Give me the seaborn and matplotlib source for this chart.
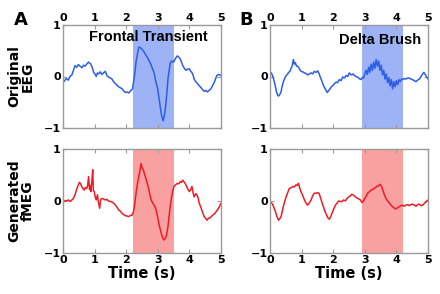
import numpy as np
import pandas as pd
import matplotlib
matplotlib.use("Agg")
import matplotlib.pyplot as plt
import seaborn as sns

# --- data (time in s, normalised amplitude) ---
t_a_eeg = [0.0, 0.03, 0.1, 0.17, 0.22, 0.28, 0.33, 0.38, 0.43, 0.49, 0.54, 0.6, 0.65, 0.7, 0.75, 0.81,
           0.88, 0.93, 0.97, 1.02, 1.05, 1.09, 1.13, 1.18, 1.23, 1.28, 1.34, 1.39, 1.44, 1.5, 1.55, 1.6,
           1.66, 1.71, 1.76, 1.82, 1.87, 1.92, 1.97, 2.03, 2.08, 2.15, 2.2, 2.24, 2.28, 2.31, 2.36, 2.4,
           2.45, 2.5, 2.55, 2.6, 2.66, 2.72, 2.78, 2.83, 2.88, 2.93, 2.99, 3.04, 3.08, 3.12, 3.17, 3.21,
           3.25, 3.29, 3.32, 3.36, 3.39, 3.43, 3.46, 3.5, 3.55, 3.58, 3.62, 3.66, 3.71, 3.75, 3.79, 3.84,
           3.89, 3.94, 4.0, 4.04, 4.08, 4.12, 4.15, 4.2, 4.26, 4.31, 4.36, 4.41, 4.47, 4.52, 4.57, 4.62,
           4.68, 4.73, 4.79, 4.83, 4.87, 4.92, 4.96, 5.0]
v_a_eeg = [-0.05, -0.1, -0.04, -0.07, 0.0, 0.03, 0.12, 0.21, 0.18, 0.23, 0.2, 0.17, 0.22, 0.2, 0.24, 0.28,
           0.24, 0.17, 0.08, 0.04, 0.0, 0.07, 0.05, 0.09, 0.04, 0.07, 0.1, 0.02, -0.01, -0.03, -0.05, -0.1,
           -0.14, -0.17, -0.2, -0.22, -0.24, -0.28, -0.31, -0.3, -0.32, -0.27, -0.24, -0.08, 0.1, 0.28, 0.45, 0.57,
           0.56, 0.53, 0.49, 0.44, 0.38, 0.31, 0.24, 0.15, 0.08, -0.08, -0.22, -0.43, -0.6, -0.76, -0.86, -0.75,
           -0.56, -0.3, -0.05, 0.12, 0.25, 0.3, 0.29, 0.28, 0.34, 0.37, 0.4, 0.38, 0.34, 0.28, 0.21, 0.16,
           0.12, 0.14, 0.15, 0.1, 0.08, 0.02, -0.05, -0.1, -0.14, -0.18, -0.21, -0.25, -0.29, -0.27, -0.3, -0.27,
           -0.24, -0.18, -0.11, -0.04, 0.02, 0.04, 0.03, 0.02]

t_a_meg = [0.0, 0.03, 0.08, 0.12, 0.17, 0.22, 0.28, 0.33, 0.38, 0.44, 0.48, 0.52, 0.56, 0.59, 0.63, 0.67,
           0.71, 0.75, 0.78, 0.81, 0.84, 0.86, 0.88, 0.91, 0.94, 0.96, 0.99, 1.02, 1.05, 1.09, 1.12, 1.16,
           1.19, 1.23, 1.28, 1.34, 1.39, 1.44, 1.5, 1.55, 1.6, 1.66, 1.71, 1.76, 1.82, 1.87, 1.92, 1.97,
           2.03, 2.08, 2.13, 2.19, 2.23, 2.26, 2.3, 2.35, 2.39, 2.43, 2.47, 2.5, 2.54, 2.58, 2.62, 2.66,
           2.71, 2.75, 2.79, 2.83, 2.88, 2.92, 2.96, 3.0, 3.04, 3.08, 3.11, 3.15, 3.19, 3.24, 3.28, 3.32,
           3.35, 3.39, 3.43, 3.47, 3.51, 3.56, 3.62, 3.66, 3.71, 3.75, 3.79, 3.84, 3.89, 3.94, 4.0, 4.04,
           4.08, 4.12, 4.15, 4.2, 4.24, 4.28, 4.31, 4.35, 4.39, 4.43, 4.47, 4.52, 4.56, 4.6, 4.64, 4.69,
           4.74, 4.79, 4.84, 4.9, 4.95, 5.0]
v_a_meg = [0.0, -0.01, 0.01, 0.0, 0.02, -0.01, 0.02, 0.05, 0.12, 0.24, 0.3, 0.36, 0.33, 0.28, 0.24, 0.21,
           0.26, 0.24, 0.3, 0.47, 0.22, 0.3, 0.18, 0.35, 0.6, 0.2, 0.18, 0.08, 0.02, 0.12, -0.02, -0.14,
           0.02, 0.05, 0.04, 0.02, 0.03, 0.0, -0.01, -0.02, -0.04, -0.08, -0.12, -0.17, -0.2, -0.24, -0.26, -0.28,
           -0.29, -0.3, -0.28, -0.27, -0.2, -0.11, 0.1, 0.31, 0.45, 0.56, 0.72, 0.64, 0.6, 0.52, 0.44, 0.35,
           0.24, 0.12, 0.02, -0.03, -0.08, -0.12, -0.21, -0.32, -0.46, -0.55, -0.62, -0.7, -0.75, -0.72, -0.65, -0.5,
           -0.33, -0.12, 0.05, 0.18, 0.28, 0.31, 0.34, 0.33, 0.37, 0.36, 0.4, 0.36, 0.31, 0.24, 0.18, 0.22,
           0.28, 0.15, 0.08, 0.14, 0.12, 0.05, -0.04, -0.1, -0.17, -0.24, -0.3, -0.34, -0.37, -0.33, -0.33, -0.3,
           -0.27, -0.25, -0.21, -0.16, -0.11, -0.04]

t_b_eeg = [0.0, 0.03, 0.06, 0.1, 0.14, 0.18, 0.21, 0.24, 0.27, 0.31, 0.35, 0.38, 0.42, 0.47, 0.51, 0.55,
           0.59, 0.63, 0.66, 0.7, 0.74, 0.77, 0.8, 0.84, 0.88, 0.93, 0.98, 1.04, 1.09, 1.14, 1.19, 1.25,
           1.3, 1.35, 1.4, 1.46, 1.51, 1.55, 1.59, 1.63, 1.67, 1.71, 1.75, 1.78, 1.81, 1.86, 1.9, 1.94,
           1.98, 2.04, 2.09, 2.14, 2.19, 2.25, 2.3, 2.35, 2.41, 2.46, 2.51, 2.55, 2.59, 2.63, 2.67, 2.72,
           2.77, 2.82, 2.88, 2.92, 2.96, 3.0, 3.04, 3.08, 3.12, 3.16, 3.2, 3.24, 3.28, 3.32, 3.36, 3.4,
           3.44, 3.48, 3.52, 3.56, 3.6, 3.64, 3.68, 3.72, 3.76, 3.8, 3.84, 3.88, 3.92, 3.96, 4.0, 4.04,
           4.08, 4.12, 4.16, 4.2, 4.25, 4.3, 4.35, 4.41, 4.46, 4.51, 4.56, 4.62, 4.67, 4.73, 4.77, 4.81,
           4.84, 4.87, 4.91, 4.94, 4.97, 5.0]
v_b_eeg = [0.06, 0.08, 0.05, -0.02, -0.11, -0.22, -0.31, -0.36, -0.38, -0.35, -0.3, -0.2, -0.11, -0.03, 0.02, 0.04,
           0.08, 0.1, 0.15, 0.2, 0.33, 0.24, 0.27, 0.2, 0.2, 0.15, 0.1, 0.09, 0.07, 0.06, 0.03, 0.05,
           0.07, 0.05, 0.1, 0.08, 0.11, 0.06, -0.01, -0.07, -0.14, -0.2, -0.24, -0.28, -0.31, -0.27, -0.24, -0.2,
           -0.18, -0.14, -0.11, -0.12, -0.06, -0.08, -0.01, -0.03, 0.02, 0.0, 0.07, 0.04, 0.03, 0.05, 0.02, 0.0,
           -0.01, -0.04, -0.06, -0.02, -0.03, 0.05, 0.12, 0.04, 0.18, 0.08, 0.24, 0.12, 0.28, 0.16, 0.33, 0.2,
           0.3, 0.12, 0.22, 0.03, 0.12, -0.05, 0.05, -0.12, -0.02, -0.18, -0.06, -0.24, -0.1, -0.2, -0.08, -0.16,
           -0.06, -0.1, -0.05, -0.06, -0.04, -0.05, -0.03, -0.03, -0.05, -0.06, -0.08, -0.1, -0.07, -0.05, -0.01, 0.03,
           0.06, 0.08, 0.04, 0.01, -0.02, -0.05]

t_b_meg = [0.0, 0.02, 0.05, 0.08, 0.12, 0.17, 0.22, 0.27, 0.31, 0.35, 0.38, 0.42, 0.46, 0.51, 0.56, 0.61,
           0.66, 0.72, 0.77, 0.82, 0.86, 0.9, 0.94, 0.98, 1.04, 1.09, 1.14, 1.19, 1.25, 1.3, 1.35, 1.4,
           1.46, 1.51, 1.55, 1.59, 1.64, 1.69, 1.74, 1.79, 1.84, 1.88, 1.92, 1.96, 2.02, 2.07, 2.12, 2.17,
           2.22, 2.28, 2.33, 2.38, 2.44, 2.49, 2.54, 2.59, 2.65, 2.7, 2.75, 2.81, 2.86, 2.91, 2.96, 3.0,
           3.05, 3.09, 3.15, 3.2, 3.25, 3.3, 3.36, 3.41, 3.45, 3.48, 3.53, 3.57, 3.62, 3.67, 3.72, 3.78,
           3.83, 3.88, 3.94, 3.99, 4.04, 4.09, 4.14, 4.2, 4.25, 4.3, 4.36, 4.41, 4.46, 4.51, 4.57, 4.62,
           4.67, 4.73, 4.78, 4.83, 4.88, 4.92, 4.96, 5.0]
v_b_meg = [-0.02, -0.03, -0.04, -0.06, -0.12, -0.2, -0.3, -0.37, -0.34, -0.3, -0.22, -0.11, -0.02, 0.08, 0.16, 0.24,
           0.25, 0.28, 0.27, 0.31, 0.3, 0.34, 0.25, 0.18, 0.1, 0.02, -0.04, -0.08, -0.03, 0.02, 0.1, 0.15,
           0.15, 0.16, 0.15, 0.08, -0.02, -0.11, -0.2, -0.27, -0.33, -0.35, -0.3, -0.24, -0.15, -0.08, -0.04, 0.0,
           -0.01, -0.01, 0.02, 0.0, 0.05, 0.08, 0.1, 0.13, 0.11, 0.08, 0.06, 0.04, 0.02, -0.03, 0.0, 0.05,
           0.1, 0.15, 0.18, 0.21, 0.22, 0.24, 0.27, 0.29, 0.3, 0.32, 0.28, 0.21, 0.12, 0.05, 0.0, -0.04,
           -0.08, -0.11, -0.14, -0.15, -0.13, -0.11, -0.09, -0.08, -0.1, -0.08, -0.07, -0.09, -0.07, -0.06, -0.08, -0.1,
           -0.07, -0.06, -0.09, -0.08, -0.05, -0.03, 0.0, 0.02]

span_a = (2.2, 3.5)
span_b = (2.9, 4.2)

panels = {
    "A": dict(eeg=(t_a_eeg, v_a_eeg), meg=(t_a_meg, v_a_meg), span=span_a,
              label="Frontal Transient", label_xy=(2.7, 0.77)),
    "B": dict(eeg=(t_b_eeg, v_b_eeg), meg=(t_b_meg, v_b_meg), span=span_b,
              label="Delta Brush", label_xy=(3.48, 0.7)),
}

sns.set_style("white")
plt.rcParams['font.family'] = ['DejaVu Sans']
plt.rcParams['font.weight'] = 'bold'
plt.rcParams['text.color'] = 'black'
plt.rcParams['axes.labelcolor'] = 'black'
plt.rcParams['xtick.labelcolor'] = 'black'
plt.rcParams['ytick.labelcolor'] = 'black'

W, H = 440, 294
fig = plt.figure(figsize=(W / 100, H / 100), dpi=100)

blue, blue_span = "#2d5ee8", "#9db3f6"
red, red_span = "#ee1c24", "#f9a1a1"
spine_c = "#9a9a9a"


def style_axes(ax, top_labels):
    ax.set_xlim(0, 5)
    ax.set_ylim(-1, 1)
    ax.set_xticks([0, 1, 2, 3, 4, 5])
    ax.set_yticks([-1, 0, 1])
    ax.set_yticklabels(["\u22121", "0", "1"])
    ax.tick_params(direction="in", length=3, width=0.8, color=spine_c,
                   top=True, bottom=True, left=True, right=True,
                   labeltop=top_labels, labelbottom=not top_labels,
                   labelsize=8, pad=1.5, labelcolor="black")
    for lab in ax.get_xticklabels() + ax.get_yticklabels():
        lab.set_fontweight("bold")
    for s in ax.spines.values():
        s.set_color(spine_c)
        s.set_linewidth(1.0)
    ax.set_xlabel("")
    ax.set_ylabel("")


lefts = {"A": 63, "B": 270}
letter_x = {"A": 21, "B": 246}
for key, p in panels.items():
    x0 = lefts[key] / W
    w = 158 / W
    ax_top = fig.add_axes([x0, 1 - 128 / H, w, 103 / H])
    ax_bot = fig.add_axes([x0, 1 - 253 / H, w, 104 / H])

    df_e = pd.DataFrame({"t": p["eeg"][0], "v": p["eeg"][1]})
    df_m = pd.DataFrame({"t": p["meg"][0], "v": p["meg"][1]})

    ax_top.axvspan(*p["span"], color=blue_span, lw=0, zorder=0)
    ax_bot.axvspan(*p["span"], color=red_span, lw=0, zorder=0)
    sns.lineplot(data=df_e, x="t", y="v", ax=ax_top, color=blue, lw=1.1, sort=False)
    sns.lineplot(data=df_m, x="t", y="v", ax=ax_bot, color=red, lw=1.1, sort=False)

    style_axes(ax_top, True)
    style_axes(ax_bot, False)

    ax_top.text(*p["label_xy"], p["label"], ha="center", va="center", color="black",
                fontsize=10.5, fontweight="bold", family="Liberation Sans")
    ax_bot.set_xlabel("Time (s)", fontsize=10.5, fontweight="bold", labelpad=1, color="black")

    fig.text(letter_x[key] / W, 1 - 20 / H, key, fontsize=13, fontweight="bold",
             ha="center", va="center", color="black")

    if key == "A":
        ax_top.set_ylabel("Original\nEEG", fontsize=10, fontweight="bold", linespacing=0.95, color="black")
        ax_bot.set_ylabel("Generated\nfMEG", fontsize=10, fontweight="bold", linespacing=0.95, color="black")
        ax_top.yaxis.set_label_coords(-0.18, 0.5)
        ax_bot.yaxis.set_label_coords(-0.18, 0.5)

fig.savefig("out.png", dpi=100)
